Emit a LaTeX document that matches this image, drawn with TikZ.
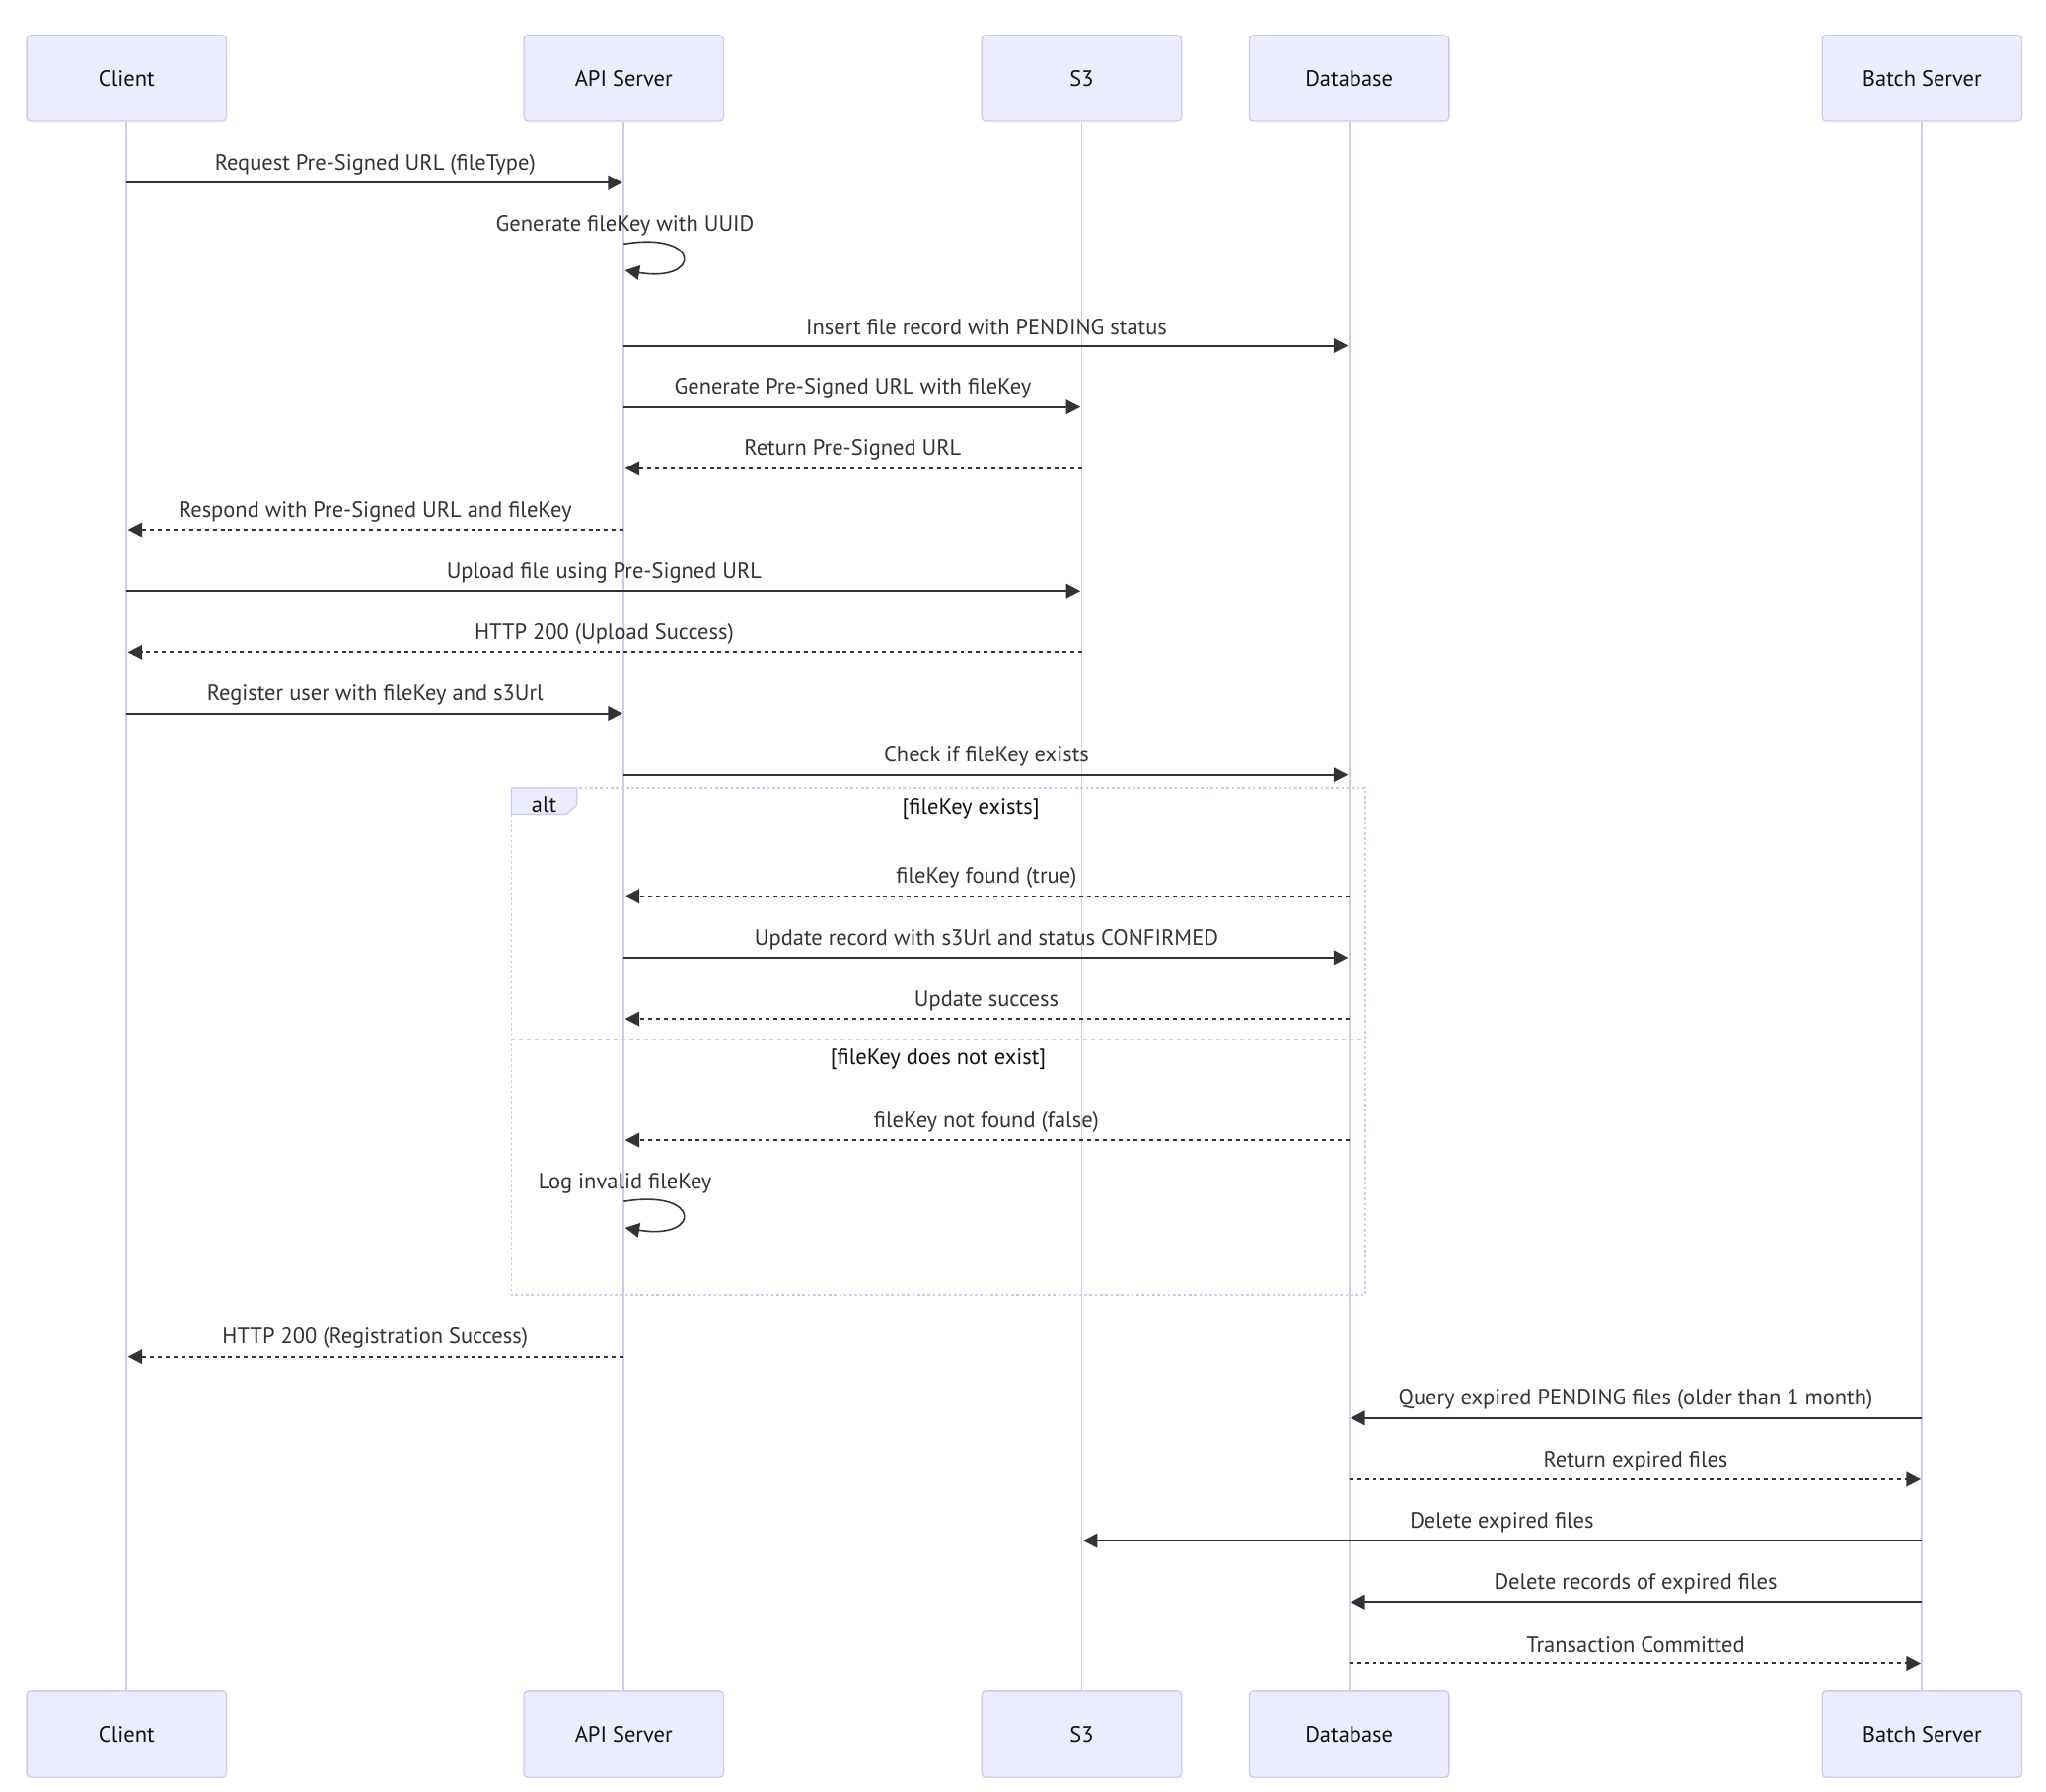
\documentclass[tikz,border=0pt]{standalone}
\usepackage{fontspec}
\setmainfont{PT Sans}
\usetikzlibrary{arrows.meta}
\definecolor{ActorFill}{HTML}{ECECFF}
\definecolor{ActorLine}{HTML}{D3C7F2}
\definecolor{MsgInk}   {HTML}{333333}
\definecolor{LabelInk} {HTML}{111111}

\begin{document}
\begin{tikzpicture}[x=1pt, y=-1pt, font=\fontsize{17}{20}\selectfont,
  actor/.style={draw=ActorLine, fill=ActorFill, line width=1pt, rounded corners=3pt,
                minimum width=153pt, minimum height=66pt, inner sep=0pt, text=LabelInk},
  lifeline/.style={draw=ActorLine, line width=1.4pt},
  call/.style={draw=MsgInk, line width=1.5pt, shorten >=1pt,
               -{Triangle[length=11pt, width=11pt]}},
  reply/.style={call, dash pattern=on 3pt off 3pt},
  selfcall/.style={call, line width=1.2pt},
  lbl/.style={text=MsgInk, inner sep=0pt},
  frameline/.style={draw=ActorLine, line width=1.5pt, dash pattern=on 2pt off 2pt}
]

  % ===== CANVAS =====
  \fill[white] (0,0) rectangle (1568,1373);
  \useasboundingbox (0,0) rectangle (1568,1373);

  % ===== ACTORS (top and bottom) =====
  \foreach \nm/\x/\lab in {cl/97/Client, api/478/API Server, s3/829/S3,
                           db/1034/Database, bat/1473/Batch Server}{
    \node[actor] (\nm)   at (\x,60)     {\lab};
    \node[actor] (\nm-b) at (\x,1329.5) {\lab};
    \draw[lifeline] (\nm) -- (\nm-b);
  }

  % ===== ALT FRAME =====
  \draw[frameline] (392,604) rectangle (1046,993);
  \draw[frameline, dash pattern=on 3pt off 3pt] (392,797) -- (1046,797);
  \draw[draw=ActorLine, fill=ActorFill, line width=1pt]
        (392,604) -- (442,604) -- (442,617) -- (434,624) -- (392,624) -- cycle;
  \node[lbl, text=LabelInk] (alt) at (417,617) {alt};
  \node[lbl, text=LabelInk] (case-a) at (744,620) {[fileKey exists]};
  \node[lbl, text=LabelInk] (case-b) at (719,812) {[fileKey does not exist]};

  % ===== CALLS =====
  \foreach \y/\a/\b/\lab in {
      140/cl/api/Request Pre-Signed URL (fileType),
      265/api/db/Insert file record with PENDING status,
      312/api/s3/Generate Pre-Signed URL with fileKey,
      453/cl/s3/Upload file using Pre-Signed URL,
      547/cl/api/Register user with fileKey and s3Url,
      594/api/db/Check if fileKey exists,
      734/api/db/Update record with s3Url and status CONFIRMED,
      1087/bat/db/Query expired PENDING files (older than 1 month),
      1181/bat/s3/Delete expired files,
      1228/bat/db/Delete records of expired files}{
    \draw[call] (\a |- 0,\y) -- (\b |- 0,\y)
          node[lbl, midway, yshift=14pt] {\lab};
  }

  % ===== REPLIES =====
  \foreach \y/\a/\b/\lab in {
      359/s3/api/Return Pre-Signed URL,
      406/api/cl/Respond with Pre-Signed URL and fileKey,
      500/s3/cl/HTTP 200 (Upload Success),
      687/db/api/fileKey found (true),
      781/db/api/Update success,
      874/db/api/fileKey not found (false),
      1040/api/cl/HTTP 200 (Registration Success),
      1134/db/bat/Return expired files,
      1275/db/bat/Transaction Committed}{
    \draw[reply] (\a |- 0,\y) -- (\b |- 0,\y)
          node[lbl, midway, yshift=14pt] {\lab};
  }

  % ===== SELF CALLS on API Server =====
  \draw[selfcall] (api |- 0,187) .. controls +(60,-10) and +(60,10) .. (api |- 0,207);
  \node[lbl] (gen) at (479,173) {Generate fileKey with UUID};
  \draw[selfcall] (api |- 0,921) .. controls +(60,-10) and +(60,10) .. (api |- 0,941);
  \node[lbl] (log) at (479,907) {Log invalid fileKey};

\end{tikzpicture}
\end{document}
